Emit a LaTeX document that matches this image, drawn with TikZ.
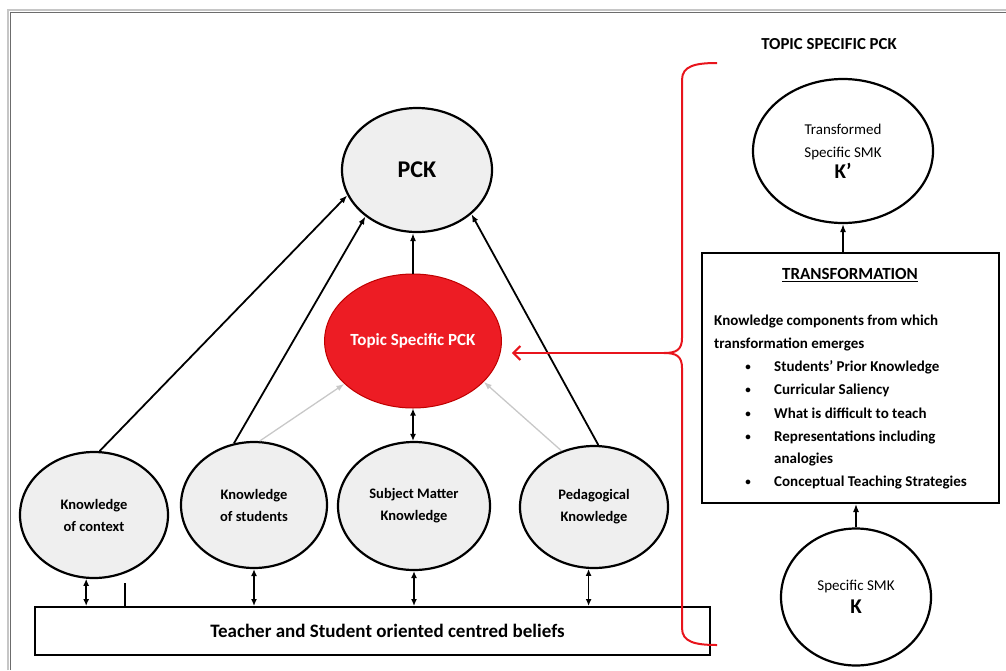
\documentclass[tikz,border=0pt]{standalone}
\usepackage{fontspec}
\setmainfont{Carlito}
\usetikzlibrary{shapes.geometric,arrows.meta}
\definecolor{circfill}{HTML}{EFEFEF}
\definecolor{pckred}{HTML}{ED1C24}
\definecolor{bracketred}{HTML}{E8141C}
\definecolor{lightarrow}{HTML}{C8C8C8}
\begin{document}
\begin{tikzpicture}[x=1pt,y=-1pt,
  circ/.style={ellipse, draw, line width=2.2pt, fill=circfill, inner sep=0pt, align=center, font=\fontsize{14.5}{22}\selectfont\bfseries},
  wcirc/.style={ellipse, draw, line width=2.2pt, fill=white, inner sep=0pt, align=center, font=\fontsize{15}{23}\selectfont},
  arr/.style={line width=1.8pt, -{Latex[length=8pt,width=6pt]}},
  dbl/.style={line width=1.5pt, {Latex[length=7pt,width=6pt]}-{Latex[length=7pt,width=6pt]}},
  garr/.style={line width=1.3pt, draw=lightarrow, -{Latex[length=8pt,width=6pt]}},
  body/.style={font=\fontsize{15}{23}\selectfont\bfseries, inner sep=0pt},
  bul/.style={font=\fontsize{11}{23}\selectfont\bfseries, inner sep=0pt},
  frameouter/.style={line width=2.5pt, draw=gray!45},
  frameinner/.style={line width=1.5pt, draw=gray!85!black}
]
\useasboundingbox (0,0) rectangle (1006,670);
% frame
\draw[frameouter] (8,670) -- (8,10) -- (1006,10);
\draw[frameinner] (10.5,670) -- (10.5,12.5) -- (1006,12.5);

% left graph
\node[circ, minimum width=150pt, minimum height=124pt] (pck) at (417,170) {\fontsize{24}{28}\selectfont\bfseries PCK};
\node[ellipse, draw=red!75!black, line width=1pt, fill=pckred, inner sep=0pt, minimum width=170pt, minimum height=134pt, text=white, font=\fontsize{17}{20}\selectfont\bfseries] (tpck) at (413,341) {Topic Specific PCK};
\node[circ, minimum width=148pt, minimum height=126pt] (ctx) at (94,515) {Knowledge\\of context};
\node[circ, minimum width=146pt, minimum height=126pt] (stu) at (254,505) {Knowledge\\of students};
\node[circ, minimum width=152pt, minimum height=128pt] (smk) at (414,506) {Subject Matter\\Knowledge};
\node[circ, minimum width=148pt, minimum height=122pt] (ped) at (594,507) {Pedagogical\\Knowledge};
\node[draw, line width=2pt, minimum width=675pt, minimum height=48pt, inner sep=0pt, font=\fontsize{19}{22}\selectfont\bfseries] (beliefs) at (372.5,631) {\hspace*{30pt}Teacher and Student oriented centred beliefs};

\draw[arr] (ctx.85) -- (pck.200);
\draw[arr] (stu.108) -- (pck.222);
\draw[arr] (ped.86) -- (pck.321);
\draw[arr] (tpck.north) -- (tpck.north |- pck.south);
\draw[garr] (stu.85) -- (tpck.212);
\draw[garr] (ped.120) -- (tpck.330);
\draw[dbl] (tpck.south) -- (tpck.south |- smk.north);
\draw[dbl] (ctx.263) -- (ctx.263 |- beliefs.north);
\coordinate (stray) at (125,583);
\draw[line width=1.5pt] (stray) -- (stray |- beliefs.north);
\draw[dbl] (stu.south) -- (stu.south |- beliefs.north);
\draw[dbl] (smk.south) -- (smk.south |- beliefs.north);
\draw[dbl] (ped.265) -- (ped.265 |- beliefs.north);

% right side
\node[font=\fontsize{16.8}{20}\selectfont\bfseries] (title) at (829,44) {TOPIC SPECIFIC PCK};
\node[wcirc, minimum width=180pt, minimum height=144pt] (tsmk) at (843,151) {Transformed\\Specific SMK\\[-2pt]{\fontsize{21}{24}\selectfont\bfseries K’}};
\node[draw, line width=2pt, minimum width=297pt, minimum height=250pt, inner sep=0pt] (tbox) at (850.5,378) {};
\node[wcirc, minimum width=150pt, minimum height=137pt] (ssmk) at (856,597) {Specific SMK\\{\fontsize{21}{24}\selectfont\bfseries K}};
\draw[arr, line width=1.3pt] (tsmk.south |- tbox.north) -- (tsmk.south);
\draw[arr, line width=1.3pt] (ssmk.north) -- (ssmk.north |- tbox.south);

\node[font=\fontsize{17}{20}\selectfont\bfseries] (ttitle) at (850,275) {\underline{TRANSFORMATION}};
\node[body, anchor=base west] (l1) at (714,325) {Knowledge components from which};
\node[body, anchor=base west] (l2) at (714,348) {transformation emerges};
\node[bul, anchor=base] (b1) at (748,370) {\textbullet};
\node[body, anchor=base west] (i1) at (774,371) {Students’ Prior Knowledge};
\node[bul, anchor=base] (b2) at (748,393) {\textbullet};
\node[body, anchor=base west] (i2) at (774,394) {Curricular Saliency};
\node[bul, anchor=base] (b3) at (748,417) {\textbullet};
\node[body, anchor=base west] (i3) at (774,418) {What is difficult to teach};
\node[bul, anchor=base] (b4) at (748,440) {\textbullet};
\node[body, anchor=base west] (i4) at (774,441) {Representations including};
\node[body, anchor=base west] (i4b) at (774,463) {analogies};
\node[bul, anchor=base] (b5) at (748,485) {\textbullet};
\node[body, anchor=base west] (i5) at (774,486) {Conceptual Teaching Strategies};

% red bracket and arrow
\coordinate (cusp) at (664,353);
\draw[bracketred, line width=2pt] (717,63) .. controls (695,63) and (682,66) .. (682,80) -- (682,338) .. controls (682,350) and (676,353) .. (cusp) .. controls (676,353) and (682,356) .. (682,368) -- (682,628) .. controls (682,642) and (695,645) .. (717,645);
\draw[bracketred, line width=2pt, -{Straight Barb[length=7pt,width=14pt]}, shorten >=10pt] (cusp) -- (tpck.east |- cusp);
\end{tikzpicture}
\end{document}
